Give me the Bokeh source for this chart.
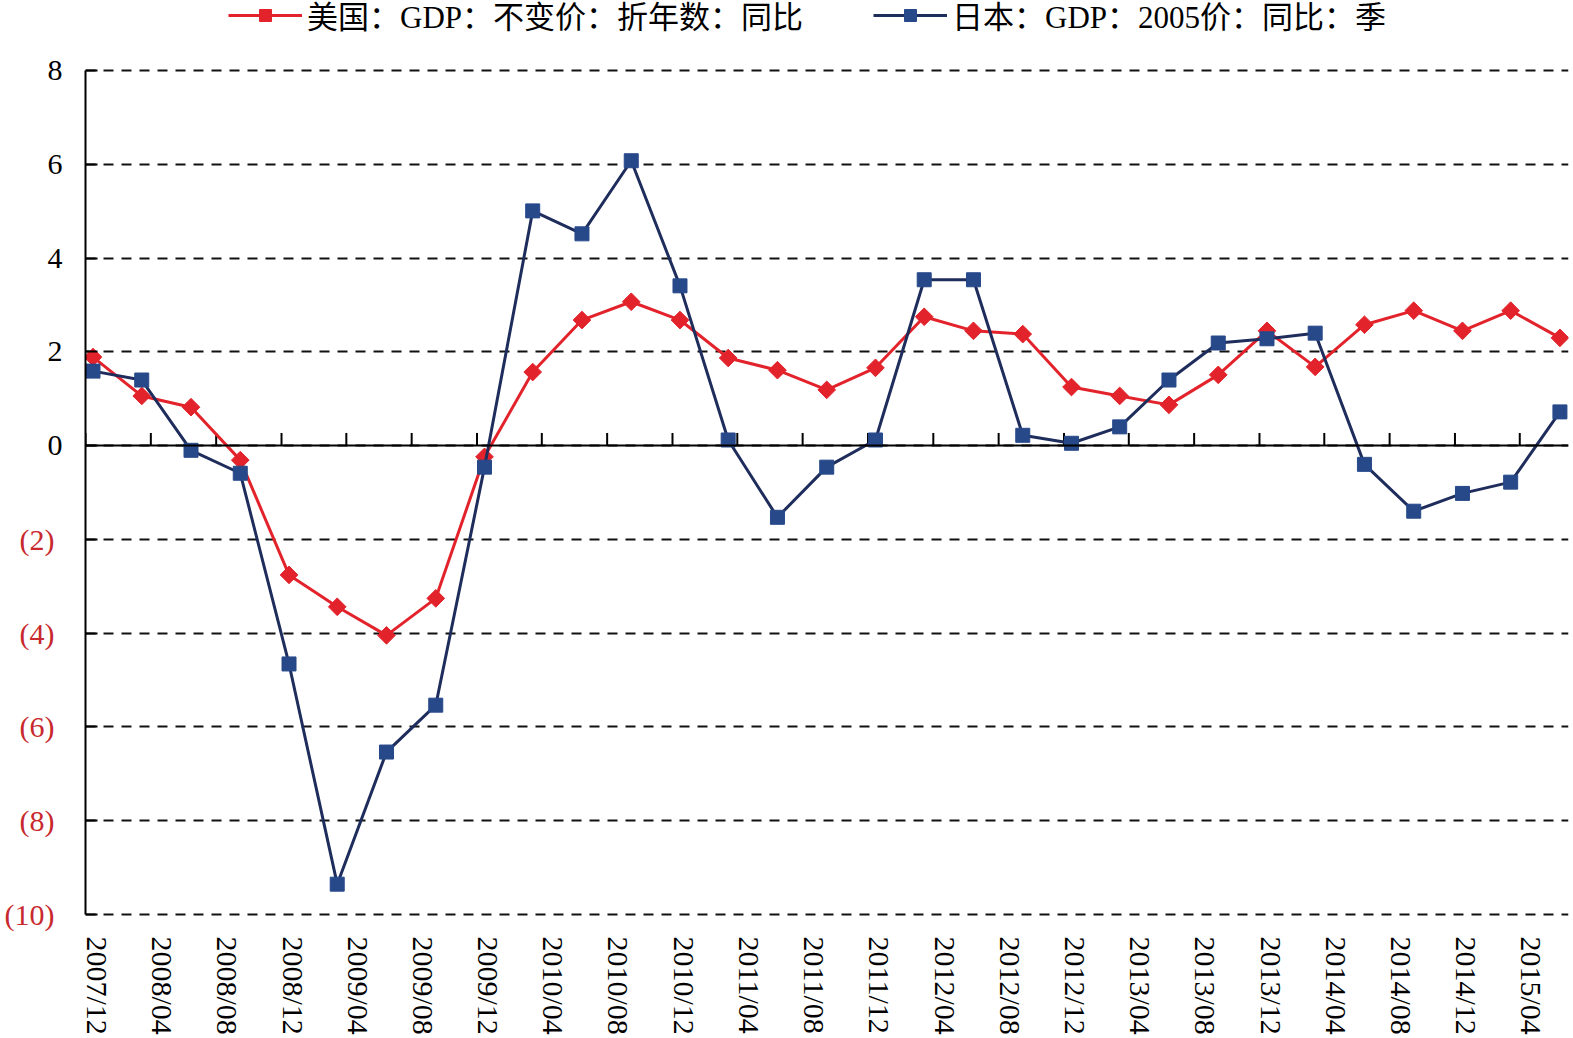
import pandas as pd
from bokeh.plotting import figure
from bokeh.models import (FixedTicker, LinearAxis, Legend, LegendItem, Span,
                          Range1d, Grid, DatetimeTickFormatter, ColumnDataSource)
from bokeh.embed import file_html
from bokeh.resources import INLINE

# ---------------- data ----------------
quarters = ["2007-12", "2008-03", "2008-06", "2008-09", "2008-12", "2009-03", "2009-06",
            "2009-09", "2009-12", "2010-03", "2010-06", "2010-09", "2010-12", "2011-03",
            "2011-06", "2011-09", "2011-12", "2012-03", "2012-06", "2012-09", "2012-12",
            "2013-03", "2013-06", "2013-09", "2013-12", "2014-03", "2014-06", "2014-09",
            "2014-12", "2015-03", "2015-06"]
us_gdp = [1.89, 1.06, 0.82, -0.31, -2.76, -3.44, -4.05, -3.26, -0.24, 1.57, 2.68, 3.07,
          2.68, 1.87, 1.61, 1.19, 1.66, 2.75, 2.45, 2.38, 1.25, 1.06, 0.87, 1.51, 2.45,
          1.68, 2.58, 2.88, 2.45, 2.88, 2.30]
japan_gdp = [1.59, 1.40, -0.10, -0.59, -4.66, -9.36, -6.54, -5.54, -0.46, 5.01, 4.52, 6.08,
             3.41, 0.12, -1.53, -0.46, 0.12, 3.54, 3.54, 0.22, 0.05, 0.40, 1.40, 2.19, 2.28,
             2.40, -0.40, -1.40, -1.02, -0.78, 0.72]
series_names = ["美国：GDP：不变价：折年数：同比", "日本：GDP：2005价：同比：季"]
x_tick_labels = ["2007/12", "2008/04", "2008/08", "2008/12", "2009/04", "2009/08", "2009/12",
                 "2010/04", "2010/08", "2010/12", "2011/04", "2011/08", "2011/12", "2012/04",
                 "2012/08", "2012/12", "2013/04", "2013/08", "2013/12", "2014/04", "2014/08",
                 "2014/12", "2015/04"]
y_ticks = [-10, -8, -6, -4, -2, 0, 2, 4, 6, 8]
y_tick_labels = ["(10)", "(8)", "(6)", "(4)", "(2)", "0", "2", "4", "6", "8"]

# ---------------- styles ----------------
RED = "#E3232B"
RED_LABEL = "#C8282E"
NAVY = "#1F2D5C"
BLUE = "#27498A"
FONT = "'Liberation Serif', 'Noto Sans CJK SC', serif"


def ms(ts):
    return int(pd.Timestamp(ts).value // 10**6)


x_start = ms("2007-12-01")
x_end = ms("2015-07-01")
y_min, y_max = y_ticks[0], y_ticks[-1]
y_top = 9.5      # head-room above the top gridline for the legend
y_bottom = -10.05  # so the bottom dashed gridline is not clipped

dates = [pd.Timestamp(q + "-15") for q in quarters]
src = ColumnDataSource(dict(x=dates, us=us_gdp, jp=japan_gdp))

tick_month_starts = [ms(t.replace("/", "-") + "-01") for t in x_tick_labels]
label_shift = 22 * 24 * 3600 * 1000
label_ticks = [t + label_shift for t in tick_month_starts]

p = figure(width=1573, height=1038, x_axis_type=None, y_axis_type=None,
           x_range=Range1d(x_start, x_end), y_range=Range1d(y_bottom, y_top),
           output_backend="svg", toolbar_location=None, title=None,
           min_border_left=85, min_border_right=5, min_border_bottom=122, min_border_top=0,
           background_fill_color="white", border_fill_color="white", outline_line_color=None)

# horizontal dashed gridlines
grid = Grid(dimension=1, ticker=FixedTicker(ticks=y_ticks), grid_line_color="#111111",
            grid_line_width=2, grid_line_dash="10 8")
p.add_layout(grid)

# zero line + its small upward ticks
p.add_layout(Span(location=0, dimension="width", line_color="black", line_width=2))
p.segment(x0=tick_month_starts, y0=[0] * len(tick_month_starts),
          x1=tick_month_starts, y1=[0.27] * len(tick_month_starts),
          line_color="black", line_width=2)

# series
us_line = p.line("x", "us", source=src, line_color=RED, line_width=3)
us_pts = p.scatter("x", "us", source=src, marker="square", angle=0.785398, size=12.5,
                   fill_color=RED, line_color=RED)
jp_line = p.line("x", "jp", source=src, line_color=NAVY, line_width=3)
jp_pts = p.scatter("x", "jp", source=src, marker="square", size=14,
                   fill_color=BLUE, line_color=BLUE)

# y axes: inner axis = line, ticks and black labels (>= 0); outer axis = red "(n)" labels (< 0)
yaxis_main = LinearAxis(ticker=FixedTicker(ticks=y_ticks), bounds=(y_min, y_max),
                        major_label_overrides={v: (lab if v >= 0 else "") for v, lab in zip(y_ticks, y_tick_labels)},
                        axis_line_color="black", axis_line_width=2,
                        major_tick_line_color="black", major_tick_line_width=2,
                        major_tick_in=12, major_tick_out=0, minor_tick_line_color=None,
                        major_label_standoff=23, major_label_text_color="black",
                        major_label_text_font=FONT, major_label_text_font_size="30px")
yaxis_neg = LinearAxis(ticker=FixedTicker(ticks=[v for v in y_ticks if v < 0]),
                       bounds=(y_min, y_max),
                       major_label_overrides={v: lab for v, lab in zip(y_ticks, y_tick_labels) if v < 0},
                       axis_line_color=None, major_tick_line_color=None, minor_tick_line_color=None,
                       major_tick_in=0, major_tick_out=0,
                       major_label_standoff=-10, major_label_text_color=RED_LABEL,
                       major_label_text_font=FONT, major_label_text_font_size="30px")
p.add_layout(yaxis_main, "left")
p.add_layout(yaxis_neg, "left")

# x axis (labels only)
fmt = DatetimeTickFormatter(days="%Y/%m", months="%Y/%m", years="%Y/%m", hours="%Y/%m")
xaxis = LinearAxis(ticker=FixedTicker(ticks=label_ticks), formatter=fmt,
                   major_label_overrides={t: lab for t, lab in zip(label_ticks, x_tick_labels)},
                   axis_line_color=None, major_tick_line_color=None, minor_tick_line_color=None,
                   major_tick_out=0, major_tick_in=0,
                   major_label_orientation="vertical", major_label_standoff=20,
                   major_label_text_font=FONT, major_label_text_font_size="30px",
                   major_label_text_color="black")
p.add_layout(xaxis, "below")

legend = Legend(items=[LegendItem(label=series_names[0], renderers=[us_line, us_pts]),
                       LegendItem(label=series_names[1], renderers=[jp_line, jp_pts])],
                orientation="horizontal", location=(143, 879),
                label_text_font=FONT, label_text_font_size="31px", label_text_color="black",
                glyph_width=74, glyph_height=30, label_standoff=5, spacing=70,
                padding=0, margin=0, border_line_color=None, background_fill_alpha=0)
p.add_layout(legend)

open("out.html", "w").write(file_html(p, INLINE))
